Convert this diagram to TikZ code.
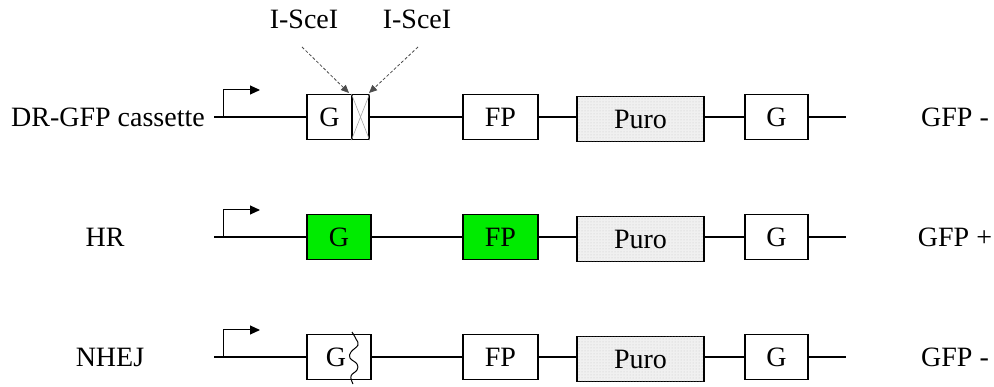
\documentclass[tikz,border=0pt]{standalone}
\usepackage{fontspec}
\setmainfont{Liberation Serif}
\usetikzlibrary{arrows.meta,patterns}
\definecolor{gfpgreen}{RGB}{0,235,0}
\begin{document}
\begin{tikzpicture}[x=1pt,y=-1pt,
  txt/.style={font=\fontsize{28}{30}\selectfont, inner sep=0pt},
  gene/.style={draw, line width=1.2pt, minimum height=45pt, inner sep=0pt,
    font=\fontsize{28}{30}\selectfont},
  puro/.style={gene, minimum width=127pt, fill=gray!12,
    postaction={pattern=dots, pattern color=gray!45}},
  green/.style={fill=gfpgreen},
  backbone/.style={line width=1.4pt},
  promoter/.style={line width=1pt, -{Triangle[length=10pt,width=9pt]}},
  site/.style={densely dashed, line width=0.8pt, gray!60!black,
    -{Triangle[length=8pt,width=7pt]}}]
\useasboundingbox (0,0) rectangle (994,387);

% ---- DR-GFP cassette ----
\coordinate (s1) at (214,117);
\coordinate (e1) at (846,117);
\node[gene, minimum width=45pt] (g1) at (329.5,117) {G};
\node[draw, line width=1.2pt, minimum width=17pt, minimum height=45pt, inner sep=0pt] (x1) at (360.5,117) {};
\draw[gray!70, line width=0.6pt] (x1.north west) -- (x1.south east) (x1.north east) -- (x1.south west);
\node[gene, minimum width=75pt] (fp1) at (500.5,117) {FP};
\node[puro] (p1) at (640.5,119) {\raisebox{-3pt}{Puro}};
\node[gene, minimum width=63pt] (gg1) at (776.5,117) {G};
\draw[backbone] (s1) -- (g1.west);
\draw[backbone] (x1.east) -- (fp1.west);
\draw[backbone] (fp1.east) -- (p1.west |- fp1.east);
\draw[backbone] (p1.east |- gg1.west) -- (gg1.west);
\draw[backbone] (gg1.east) -- (e1);
\coordinate (pr1) at (223,117);
\coordinate (pt1) at (260,90);
\draw[promoter] (pr1) |- (pt1);
\node[txt] (l1) at (108,117) {DR-GFP cassette};
\node[txt] (r1) at (955,117) {GFP -};

% I-SceI sites
\node[txt] (i1) at (304,19) {I-SceI};
\node[txt] (i2) at (417,19) {I-SceI};
\coordinate (t1) at (349,93);
\coordinate (t2) at (369,93);
\draw[site] (302,47) -- (t1);
\draw[site] (418,47) -- (t2);

% ---- HR ----
\coordinate (s2) at (214,237);
\coordinate (e2) at (846,237);
\node[gene, green, minimum width=64pt] (g2) at (339,237) {G};
\node[gene, green, minimum width=75pt] (fp2) at (500.5,237) {FP};
\node[puro] (p2) at (640.5,239) {\raisebox{-3pt}{Puro}};
\node[gene, minimum width=63pt] (gg2) at (776.5,237) {G};
\draw[backbone] (s2) -- (g2.west);
\draw[backbone] (g2.east) -- (fp2.west);
\draw[backbone] (fp2.east) -- (p2.west |- fp2.east);
\draw[backbone] (p2.east |- gg2.west) -- (gg2.west);
\draw[backbone] (gg2.east) -- (e2);
\coordinate (pr2) at (223,237);
\coordinate (pt2) at (260,210);
\draw[promoter] (pr2) |- (pt2);
\node[txt] (l2) at (105,237) {HR};
\node[txt] (r2) at (955,237) {GFP +};

% ---- NHEJ ----
\coordinate (s3) at (214,357);
\coordinate (e3) at (846,357);
\node[gene, minimum width=64pt] (g3) at (339,357) {\hspace*{-6pt}G};
\node[gene, minimum width=75pt] (fp3) at (500.5,357) {FP};
\node[puro] (p3) at (640.5,359) {\raisebox{-3pt}{Puro}};
\node[gene, minimum width=63pt] (gg3) at (776.5,357) {G};
\draw[backbone] (s3) -- (g3.west);
\draw[backbone] (g3.east) -- (fp3.west);
\draw[backbone] (fp3.east) -- (p3.west |- fp3.east);
\draw[backbone] (p3.east |- gg3.west) -- (gg3.west);
\draw[backbone] (gg3.east) -- (e3);
\coordinate (pr3) at (223,357);
\coordinate (pt3) at (260,330);
\draw[promoter] (pr3) |- (pt3);
% broken end left by end joining
\draw[line width=1pt] plot[smooth, tension=0.7] coordinates
  {(352,332) (356,339) (358,345) (351,352) (350,358) (357,364) (357,370) (351,376) (353,384)};
\node[txt] (l3) at (110,357) {NHEJ};
\node[txt] (r3) at (955,357) {GFP -};
\end{tikzpicture}
\end{document}
